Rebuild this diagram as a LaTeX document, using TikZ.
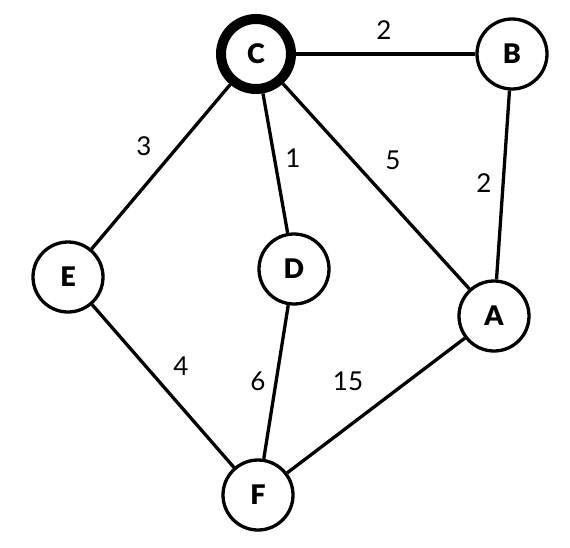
\documentclass[tikz,border=0pt]{standalone}
\usepackage{fontspec}
\setmainfont{Lato}
\newfontfamily\lblack{Lato Black}
\begin{document}
\begin{tikzpicture}[x=1pt,y=-1pt,
  vtx/.style={circle,draw=black,line width=3.3pt,fill=white,minimum size=70pt,inner sep=0pt,font=\fontsize{27}{30}\lblack},
  start/.style={vtx,line width=10pt},
  edge/.style={line width=3.3pt},
  wt/.style={font=\fontsize{26}{30}\selectfont}]
\useasboundingbox (0,0) rectangle (570,547);
\node[start] (C) at (256,54) {C};
\node[vtx] (B) at (512,54) {B};
\node[vtx] (E) at (68,277) {E};
\node[vtx] (D) at (294,269) {D};
\node[vtx] (A) at (494,316) {A};
\node[vtx] (F) at (258,495) {F};
\draw[edge] (C) -- (B);
\draw[edge] (C) -- (E);
\draw[edge] (C) -- (D);
\draw[edge] (C) -- (A);
\draw[edge] (B) -- (A);
\draw[edge] (E) -- (F);
\draw[edge] (D) -- (F);
\draw[edge] (A) -- (F);
\node[wt] (w1) at (384,30) {2};
\node[wt] (w2) at (144,146) {3};
\node[wt] (w3) at (293,158) {1};
\node[wt] (w4) at (393,160) {5};
\node[wt] (w5) at (484,183) {2};
\node[wt] (w6) at (181,366) {4};
\node[wt] (w7) at (258,381) {6};
\node[wt] (w8) at (348,381) {15};
\end{tikzpicture}
\end{document}
